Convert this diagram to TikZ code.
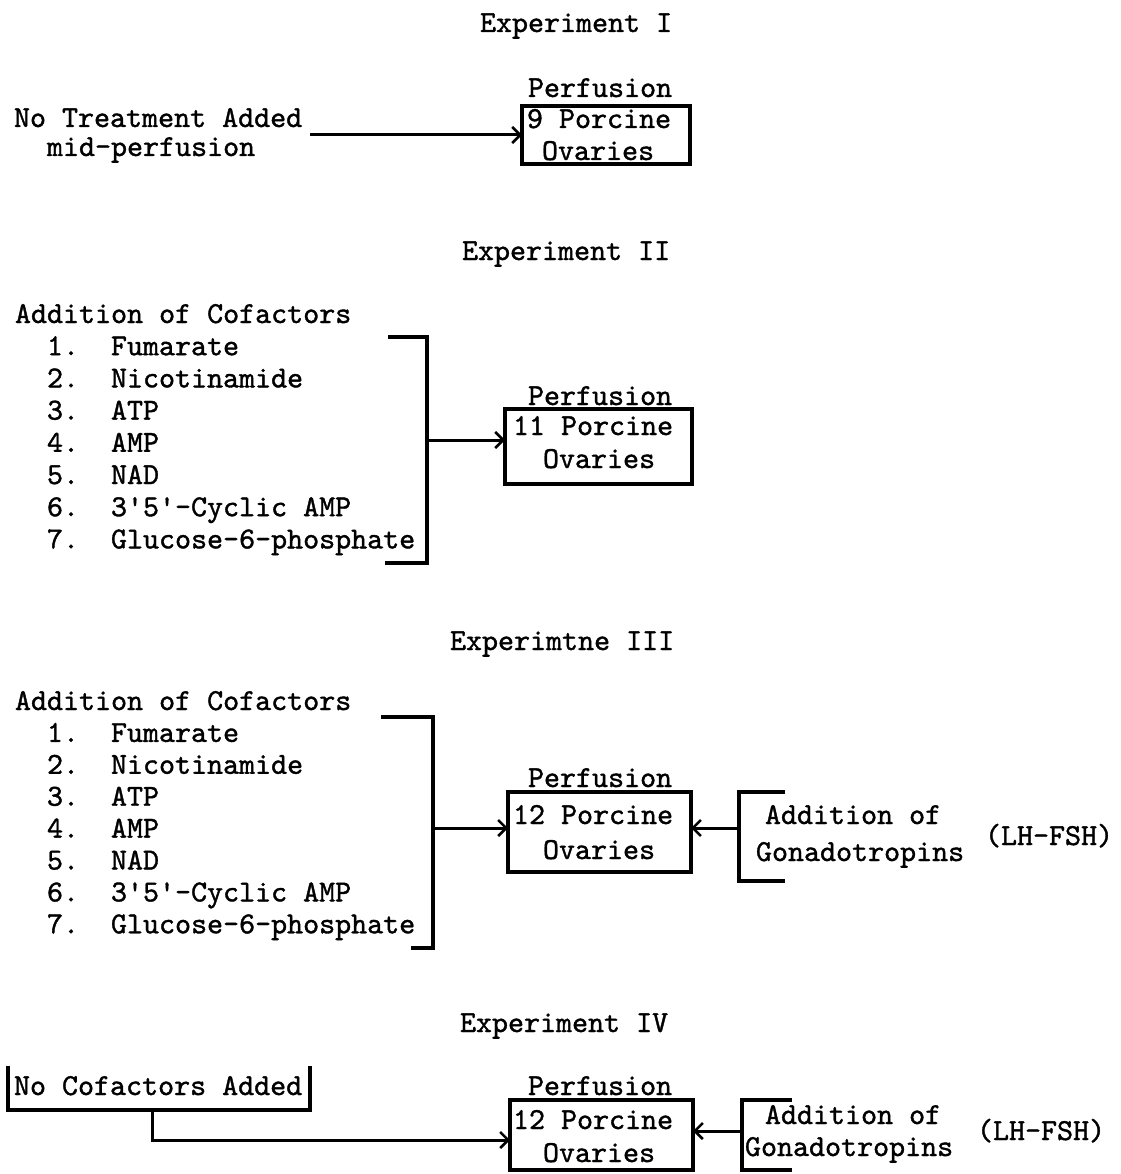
\documentclass[tikz,border=0pt]{standalone}
\usepackage{fontspec}
\newfontfamily\tw{lmmono10-regular.otf}[FakeBold=1.2]
\usetikzlibrary{arrows.meta}
\begin{document}
\begin{tikzpicture}[x=1pt,y=-1pt,
  txt/.style={anchor=base west, inner sep=0pt, outer sep=0pt, font=\fontsize{30.5}{32}\selectfont\tw},
  boxn/.style={draw, line width=3.2pt, inner sep=0pt, outer sep=0pt},
  brk/.style={line width=3.2pt, line cap=rect},
  arr/.style={line width=3pt, -{Straight Barb[length=8pt,width=16pt,line width=2.6pt]}}]
\fill[white] (0,0) rectangle (1120,1174);
\useasboundingbox (0,0) rectangle (1120,1174);

% ---------- Experiment I ----------
\node[txt] (t1) at (480,32) {Experiment I};
\node[txt] (p1) at (528,97) {Perfusion};
\node[boxn, minimum width=168pt, minimum height=58pt] (box1) at (606,135) {};
\node[txt] (o1a) at (527,128) {9 Porcine};
\node[txt] (o1b) at (542,160) {Ovaries};
\node[txt] (n1a) at (14,127) {No Treatment Added};
\node[txt] (n1b) at (47,156) {mid-perfusion};
\coordinate (s1) at (310,135);
\draw[arr] (s1) -- (box1.west);

% ---------- Experiment II ----------
\node[txt] (t2) at (462,260) {Experiment II};
\node[txt] (h2) at (15,323) {Addition of Cofactors};
\foreach \n/\t [count=\i] in {1/Fumarate,2/Nicotinamide,3/ATP,4/AMP,5/NAD,6/3\textquotesingle5\textquotesingle-Cyclic AMP,7/Glucose-6-phosphate}{
  \node[txt] (n2\i) at (47,{323+32.2*\i}) {\n.};
  \node[txt] (l2\i) at (111,{323+32.2*\i}) {\t};
}
\draw[brk] (390,337) -- (427,337) -- (427,563) -- (387,563);
\node[txt] (p2) at (528,405) {Perfusion};
\node[boxn, minimum width=187pt, minimum height=75pt] (box2) at (598.5,446.5) {};
\node[txt] (o2a) at (513,435) {11 Porcine};
\node[txt] (o2b) at (543,468) {Ovaries};
\coordinate (s2) at (427,440);
\draw[arr] (s2) -- (s2 -| box2.west);

% ---------- Experiment III ----------
\node[txt] (t3) at (450,650) {Experimtne III};
\node[txt] (h3) at (15,710) {Addition of Cofactors};
\foreach \n/\t [count=\i] in {1/Fumarate,2/Nicotinamide,3/ATP,4/AMP,5/NAD,6/3\textquotesingle5\textquotesingle-Cyclic AMP,7/Glucose-6-phosphate}{
  \node[txt] (n3\i) at (47,{710+31.9*\i}) {\n.};
  \node[txt] (l3\i) at (111,{710+31.9*\i}) {\t};
}
\draw[brk] (383,717) -- (433,717) -- (433,948) -- (413,948);
\node[txt] (p3) at (528,787) {Perfusion};
\node[boxn, minimum width=183pt, minimum height=80pt] (box3) at (599.5,832) {};
\node[txt] (o3a) at (513,824) {12 Porcine};
\node[txt] (o3b) at (543,859) {Ovaries};
\coordinate (s3) at (433,828);
\draw[arr] (s3) -- (s3 -| box3.west);
\draw[brk] (783,792) -- (739,792) -- (739,881) -- (783,881);
\node[txt] (g3a) at (765,824) {Addition of};
\node[txt] (g3b) at (756,861) {Gonadotropins};
\node[txt] (g3c) at (985,845) {(LH-FSH)};
\coordinate (r3) at (739,828);
\draw[arr] (r3) -- (r3 -| box3.east);

% ---------- Experiment IV ----------
\node[txt] (t4) at (460,1032) {Experiment IV};
\node[txt] (nc) at (14,1095) {No Cofactors Added};
\draw[brk] (8,1068) -- (8,1110) -- (310,1110) -- (310,1068);
\node[txt] (p4) at (528,1095) {Perfusion};
\node[boxn, minimum width=183pt, minimum height=70pt] (box4) at (601.5,1135) {};
\node[txt] (o4a) at (513,1129) {12 Porcine};
\node[txt] (o4b) at (543,1162) {Ovaries};
\coordinate (s4a) at (152,1110);
\coordinate (s4b) at (152,1140);
\draw[arr] (s4a) -- (s4b) -- (s4b -| box4.west);
\draw[brk] (790,1100) -- (742,1100) -- (742,1170) -- (790,1170);
\node[txt] (g4a) at (765,1124) {Addition of};
\node[txt] (g4b) at (745,1156) {Gonadotropins};
\node[txt] (g4c) at (977,1140) {(LH-FSH)};
\coordinate (r4) at (742,1131);
\draw[arr] (r4) -- (r4 -| box4.east);
\end{tikzpicture}
\end{document}
